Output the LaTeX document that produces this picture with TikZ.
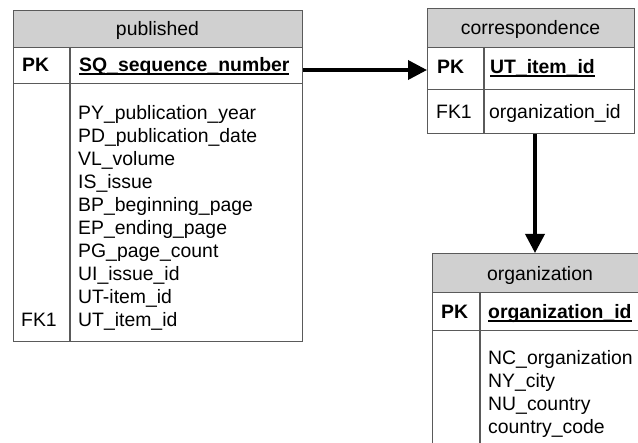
\documentclass[tikz,border=0pt]{standalone}
\usepackage{fontspec}
\setmainfont{Liberation Sans}
\usetikzlibrary{arrows.meta}
\definecolor{bcol}{HTML}{5A5A5A}
\definecolor{hcol}{HTML}{D0D0D0}
\newcommand\fs{\fontsize{19.4}{23}\selectfont}
\newcommand\myul[1]{\setbox0\hbox{#1}\rlap{\rule[-3pt]{\wd0}{1.5pt}}\box0}
\tikzset{
  box/.style={draw=bcol, line width=1.3pt, inner sep=0pt, anchor=north west},
  hdr/.style={box, fill=hcol},
  divline/.style={draw=bcol, line width=1.3pt},
  txt/.style={inner sep=0pt, anchor=mid west, font=\fs, yshift=-4pt},
  ctxt/.style={inner sep=0pt, font=\fs, yshift=-2pt},
  conn/.style={line width=3.6pt, -{Triangle[length=19pt,width=19pt]}}
}
\begin{document}
\begin{tikzpicture}[x=1pt,y=-1pt]
\useasboundingbox (0,0) rectangle (638,443);
\clip (0,0) rectangle (638,443);
% ---------- published
\node[hdr, minimum width=289pt, minimum height=37pt] (pubH) at (13,10) {};
\node[box, minimum width=289pt, minimum height=36pt] (pubK) at (13,47) {};
\node[box, minimum width=289pt, minimum height=258pt] (pubB) at (13,83) {};
\draw[divline] (pubK.north west) ++(57,0) coordinate (pd1) -- (pd1 |- pubB.south);
\node[ctxt] (pubT) at (157.5,28) {published};
\node[txt] (pubPK) at (22,65) {\textbf{PK}};
\node[txt] (pubSQ) at (79,65) {\myul{\textbf{SQ\_sequence\_number}}};
\node[txt] (f1) at (78,113) {PY\_publication\_year};
\node[txt] (f2) at (78,136) {PD\_publication\_date};
\node[txt] (f3) at (78,159) {VL\_volume};
\node[txt] (f4) at (78,182) {IS\_issue};
\node[txt] (f5) at (78,205) {BP\_beginning\_page};
\node[txt] (f6) at (78,228) {EP\_ending\_page};
\node[txt] (f7) at (78,251) {PG\_page\_count};
\node[txt] (f8) at (78,274) {UI\_issue\_id};
\node[txt] (f9) at (78,297) {UT-item\_id};
\node[txt] (f10) at (78,320) {UT\_item\_id};
\node[txt] (pubFK) at (21,320) {FK1};
% ---------- correspondence
\node[hdr, minimum width=207pt, minimum height=39pt] (corH) at (427,8) {};
\node[box, minimum width=207pt, minimum height=42pt] (corK) at (427,47) {};
\node[box, minimum width=207pt, minimum height=44pt] (corF) at (427,89) {};
\draw[divline] (corK.north west) ++(57,0) coordinate (cd1) -- (cd1 |- corF.south);
\node[ctxt] (corT) at (530.5,27) {correspondence};
\node[txt] (corPK) at (437,67) {\textbf{PK}};
\node[txt] (corUT) at (490,67) {\myul{\textbf{UT\_item\_id}}};
\node[txt] (corFK) at (436,112) {FK1};
\node[txt] (corOI) at (489,112) {organization\_id};
% ---------- organization
\node[hdr, minimum width=216pt, minimum height=39pt] (orgH) at (432,253) {};
\node[box, minimum width=216pt, minimum height=38pt] (orgK) at (432,292) {};
\node[box, minimum width=216pt, minimum height=140pt] (orgB) at (432,330) {};
\draw[divline] (orgK.north west) ++(48,0) coordinate (od1) -- (od1 |- orgB.south);
\node[ctxt] (orgT) at (540,273) {organization};
\node[txt] (orgPK) at (441,312) {\textbf{PK}};
\node[txt] (orgOI) at (488,312) {\myul{\textbf{organization\_id}}};
\node[txt] (o1) at (488,358) {NC\_organization};
\node[txt] (o2) at (488,381) {NY\_city};
\node[txt] (o3) at (488,404) {NU\_country};
\node[txt] (o4) at (488,427) {country\_code};
% ---------- connectors
\coordinate (a1) at (pubK.east |- 0,70);
\coordinate (a2) at (corK.west |- 0,70);
\draw[conn] (a1) -- (a2);
\coordinate (v1) at (535,0 |- corF.south);
\coordinate (v2) at (535,0 |- orgH.north);
\draw[conn] (v1) -- (v2);
\end{tikzpicture}
\end{document}
